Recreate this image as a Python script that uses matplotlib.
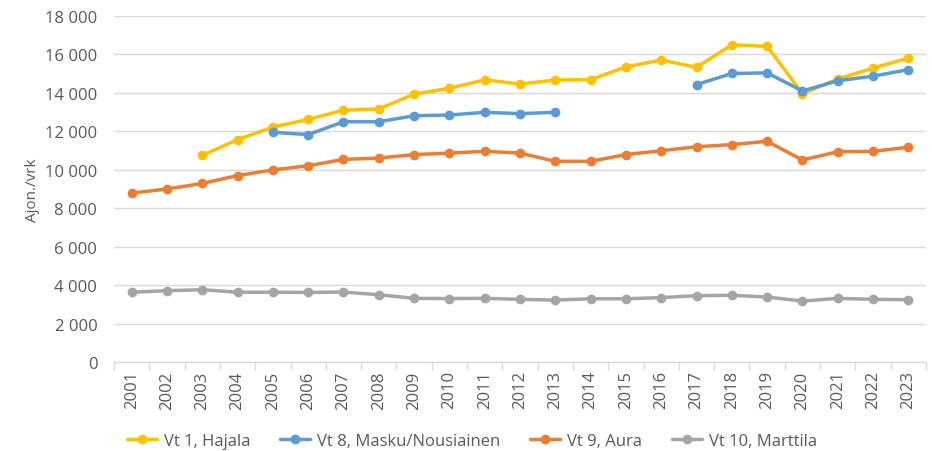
import matplotlib
matplotlib.use("Agg")
import matplotlib.pyplot as plt
import numpy as np

years = [str(y) for y in range(2001, 2024)]
nan = np.nan
vt1 = [nan, nan, 10750, 11570, 12220, 12620, 13100, 13160, 13940, 14240,
       14680, 14460, 14670, 14690, 15350, 15710, 15330, 16500, 16420, 13960,
       14720, 15290, 15810]
vt8 = [nan, nan, nan, nan, 11950, 11830, 12500, 12500, 12810, 12850,
       12990, 12920, 12990, nan, nan, nan, 14430, 15010, 15040, 14100,
       14630, 14870, 15210]
vt9 = [8790, 9000, 9290, 9700, 9990, 10210, 10540, 10610, 10790, 10870,
       10960, 10870, 10440, 10440, 10790, 10990, 11200, 11310, 11480, 10510,
       10940, 10960, 11170]
vt10 = [3630, 3710, 3760, 3630, 3630, 3620, 3640, 3500, 3310, 3300,
        3310, 3260, 3220, 3290, 3290, 3350, 3450, 3470, 3380, 3170,
        3310, 3260, 3240]
names = ["Vt 1, Hajala", "Vt 8, Masku/Nousiainen", "Vt 9, Aura", "Vt 10, Marttila"]
colors = ["#FFC000", "#5B9BD5", "#ED7D31", "#A5A5A5"]
ylabel = "Ajon./vrk"

plt.rcParams['font.family'] = ['Open Sans', 'DejaVu Sans']
txt = "#595959"

fig = plt.figure(figsize=(9.32, 4.52), dpi=100)
ax = fig.add_axes([114/932, 1-363/452, 812/932, 346/452])
x = np.arange(len(years))
for vals, name, c in zip([vt1, vt8, vt9, vt10], names, colors):
    ax.plot(x, vals, color=c, lw=2.5, marker='o', ms=6, label=name,
            solid_capstyle='round')

ax.set_xlim(-0.5, len(years)-0.5)
ax.set_ylim(0, 18000)
ax.set_yticks(np.arange(0, 18001, 2000))
ax.set_yticklabels([f"{v:,}".replace(",", " ") for v in range(0, 18001, 2000)],
                   fontsize=12, color=txt)
ax.yaxis.grid(True, color="#D9D9D9", lw=1)
ax.set_axisbelow(True)
ax.tick_params(axis='y', length=0, pad=12)
ax.set_xticks(x)
ax.set_xticklabels(years, rotation=90, fontsize=12, color=txt)
ax.tick_params(axis='x', length=0, pad=6)
ax.set_xticks(np.arange(-0.5, len(years), 1), minor=True)
ax.tick_params(axis='x', which='minor', length=6, color="#D9D9D9", width=1)
for s in ['top', 'right', 'left']:
    ax.spines[s].set_visible(False)
ax.spines['bottom'].set_color("#D9D9D9")
ax.set_ylabel(ylabel, fontsize=11, color=txt, labelpad=4)

fig.legend(loc='center', bbox_to_anchor=(472/932, 1-442/452), ncol=4, frameon=False,
           fontsize=12, labelcolor=txt, handlelength=1.8, columnspacing=1.8,
           handletextpad=0.4)
fig.savefig("out.png", dpi=100)
